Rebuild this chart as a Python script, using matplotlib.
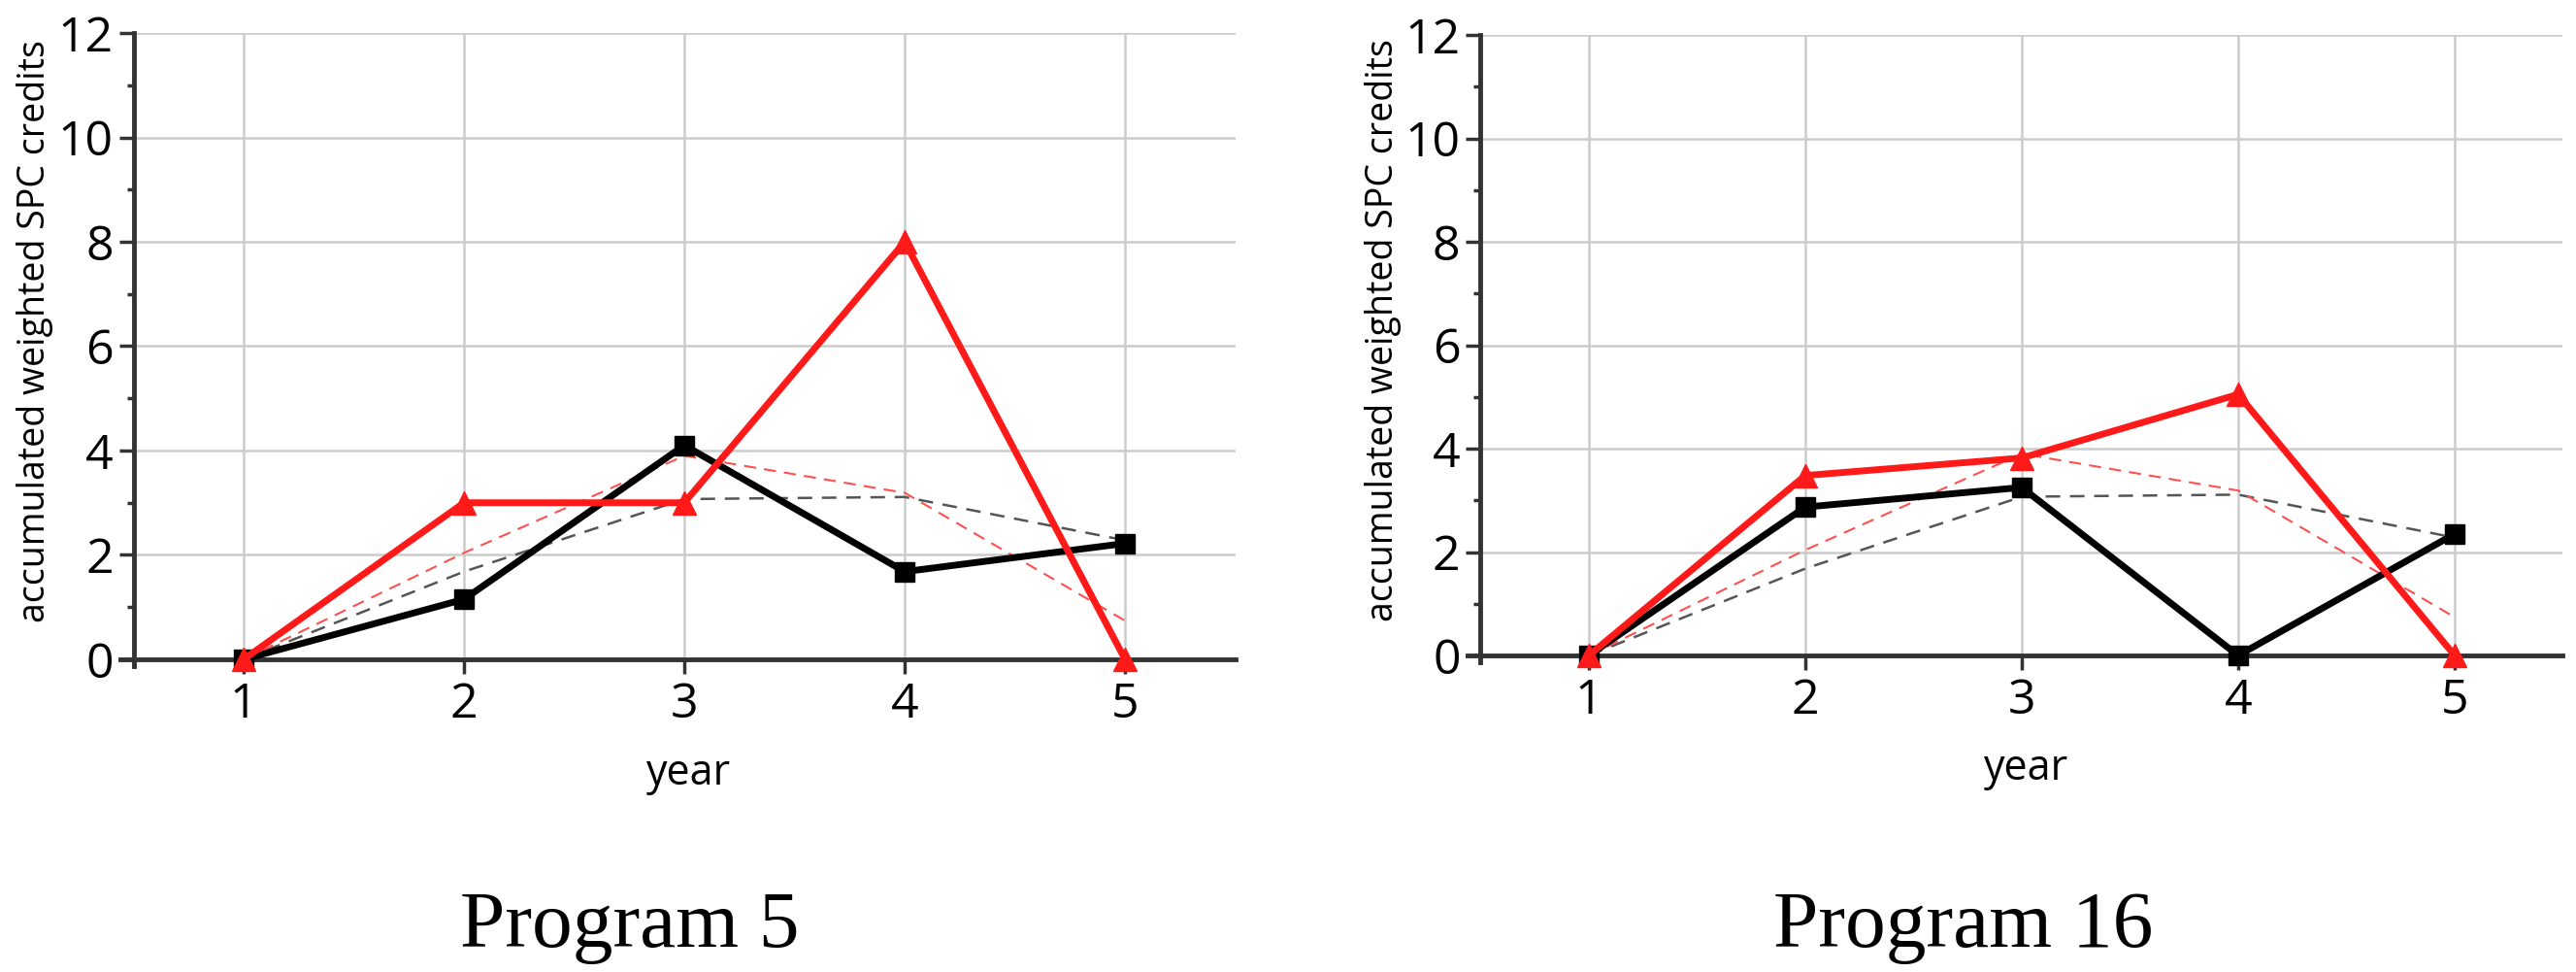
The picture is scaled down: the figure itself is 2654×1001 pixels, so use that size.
import matplotlib
matplotlib.use("Agg")
import matplotlib.pyplot as plt
from matplotlib.ticker import MultipleLocator

years = [1, 2, 3, 4, 5]

# Program 5
p5_black = [0, 1.15, 4.1, 1.68, 2.22]
p5_red = [0, 3.0, 3.0, 8.0, 0]

# Program 16
p16_black = [0, 2.87, 3.25, 0, 2.35]
p16_red = [0, 3.48, 3.82, 5.05, 0]

# dashed reference lines (same in both panels)
ref_black = [0, 1.68, 3.07, 3.11, 2.28]
ref_red = [0, 2.04, 3.9, 3.19, 0.74]

titles = ["Program 5", "Program 16"]

RED = "#ff1a1a"

fig = plt.figure(figsize=(26.54, 10.01), dpi=100)
ax1 = fig.add_axes([0.0467, 0.3142, 0.4328, 0.6518])
ax2 = fig.add_axes([0.5697, 0.3182, 0.4252, 0.6458])

for ax, black, red in [(ax1, p5_black, p5_red), (ax2, p16_black, p16_red)]:
    ax.plot(years, ref_black, "--", color="#555555", lw=1.8, dashes=(6, 4), zorder=3)
    ax.plot(years, ref_red, "--", color="#ff5050", lw=1.5, dashes=(6, 4), zorder=3)
    ax.plot(years, black, "-", color="black", lw=5, marker="s", ms=14,
            zorder=4, clip_on=False)
    ax.plot(years, red, "-", color=RED, lw=5, marker="^", ms=17,
            zorder=5, clip_on=False)

    ax.set_xlim(0.44, 5.5)
    ax.set_ylim(-0.14, 12)
    ax.spines["left"].set_position(("data", 0.5))
    ax.spines["bottom"].set_position(("data", 0))
    ax.spines["top"].set_visible(False)
    ax.spines["right"].set_visible(False)
    for s in ["left", "bottom"]:
        ax.spines[s].set_linewidth(3.5)
        ax.spines[s].set_color("#333333")
        ax.spines[s].set_zorder(2)

    ax.set_xticks(years)
    ax.set_yticks(range(0, 13, 2))
    ax.yaxis.set_minor_locator(MultipleLocator(1))
    ax.tick_params(axis="both", which="major", direction="out", length=11,
                   width=2.5, color="#333333", labelsize=36)
    ax.tick_params(axis="x", which="major", pad=5)
    ax.tick_params(axis="y", which="major", pad=4)
    ax.tick_params(axis="y", which="minor", direction="out", length=5,
                   width=2.5, color="#333333")
    for t in ax.get_xticklabels() + ax.get_yticklabels():
        t.set_fontfamily("Open Sans")
    ax.grid(True, which="major", color="#cccccc", lw=1.8, zorder=0)

    ax.set_xlabel("year", fontsize=31, fontfamily="Open Sans")
    ax.xaxis.set_label_coords(0.51, -0.135)
    ax.set_ylabel("accumulated weighted SPC credits", fontsize=27,
                  fontfamily="Open Sans")
    ax.yaxis.set_label_coords(-0.06, 0.53)

fig.text(0.2445, 0.046, titles[0], fontsize=60, fontfamily="Liberation Serif",
         ha="center", va="center")
fig.text(0.7622, 0.046, titles[1], fontsize=60, fontfamily="Liberation Serif",
         ha="center", va="center")

fig.savefig("out.png", dpi=100, facecolor="white")
